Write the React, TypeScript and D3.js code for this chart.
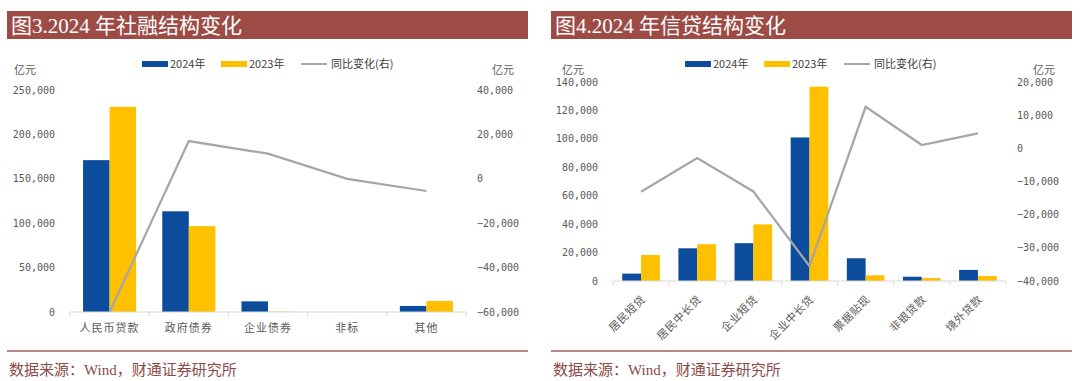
import React from "react";
import * as d3 from "d3";

// ---------- data ----------
const socialCats = ["人民币贷款", "政府债券", "企业债券", "非标", "其他"];
const social2024 = [171000, 113400, 12000, 0, 6800];
const social2023 = [231000, 96700, 500, 0, 12500];
const socialYoy = [-60000, 17000, 11300, 0, -5500];
const socialLeftTicks = [0, 50000, 100000, 150000, 200000, 250000];
const socialRightTicks = [-60000, -40000, -20000, 0, 20000, 40000];

const creditCats = ["居民短贷", "居民中长贷", "企业短贷", "企业中长贷", "票据贴现", "非银贷款", "境外贷款"];
const credit2024 = [5200, 23000, 26600, 101000, 16000, 3000, 7800];
const credit2023 = [18300, 25900, 39800, 136700, 4000, 2100, 3500];
const creditYoy = [-13100, -2900, -13000, -35500, 12500, 1000, 4500];
const creditLeftTicks = [0, 20000, 40000, 60000, 80000, 100000, 120000, 140000];
const creditRightTicks = [-40000, -30000, -20000, -10000, 0, 10000, 20000];

const legendLabels = ["2024年", "2023年", "同比变化(右)"];
const unitLabel = "亿元";
const sourceText = "数据来源：Wind，财通证券研究所";

// ---------- styles ----------
const BLUE = "#0B4C9C";
const YELLOW = "#FFC000";
const GRAY = "#A6A6A6";
const TITLE_BG = "#9E4B46";
const SRC = "#8C4A48";
const TXT = "#595959";
const CJK = "'Noto Sans CJK SC', sans-serif";
const NUM = "'DejaVu Sans Mono', monospace";
const fmt = d3.format(",");

type PanelProps = {
  x0: number;
  width: number;
  title: string;
  cats: string[];
  a: number[];
  b: number[];
  yoy: number[];
  leftTicks: number[];
  rightTicks: number[];
  plotX: [number, number];
  plotY: [number, number];
  leftLabelX: number;
  rightLabelX: number;
  rotate: boolean;
  legendX: number;
  unitLeftX: number;
  unitRightX: number;
};

function Panel(p: PanelProps) {
  const x = d3.scaleBand<string>().domain(p.cats).range(p.plotX);
  const bw = x.bandwidth();
  const barW = bw * 0.335;
  const yL = d3
    .scaleLinear()
    .domain([p.leftTicks[0], p.leftTicks[p.leftTicks.length - 1]])
    .range(p.plotY);
  const yR = d3
    .scaleLinear()
    .domain([p.rightTicks[0], p.rightTicks[p.rightTicks.length - 1]])
    .range(p.plotY);
  const line = d3
    .line<number>()
    .x((_, i) => (x(p.cats[i]) as number) + bw / 2)
    .y((d) => yR(d));
  const base = yL(0);
  const boundaries = p.cats.map((c) => x(c) as number).concat([p.plotX[1]]);
  const lx = p.legendX;
  const ly = 64;

  return (
    <g>
      <rect x={p.x0} y={11} width={p.width} height={28} fill={TITLE_BG} />
      <text
        x={p.x0 + 4}
        y={33}
        fill="#fff"
        fontSize={21}
        fontFamily={`'Liberation Serif', ${CJK}`}
      >
        {p.title}
      </text>

      <rect x={lx} y={ly - 3} width={26} height={6} fill={BLUE} />
      <text x={lx + 28} y={ly} dy="0.35em" fontSize={11} fill="#404040" fontFamily={CJK}>
        {legendLabels[0]}
      </text>
      <rect x={lx + 79} y={ly - 3} width={26} height={6} fill={YELLOW} />
      <text x={lx + 107} y={ly} dy="0.35em" fontSize={11} fill="#404040" fontFamily={CJK}>
        {legendLabels[1]}
      </text>
      <line x1={lx + 159} x2={lx + 185} y1={ly} y2={ly} stroke={GRAY} strokeWidth={2} />
      <text x={lx + 189} y={ly} dy="0.35em" fontSize={11} fill="#404040" fontFamily={CJK}>
        {legendLabels[2]}
      </text>

      <text x={p.unitLeftX} y={70} dy="0.35em" fontSize={11} fill={TXT} fontFamily={CJK}>
        {unitLabel}
      </text>
      <text x={p.unitRightX} y={70} dy="0.35em" fontSize={11} fill={TXT} fontFamily={CJK}>
        {unitLabel}
      </text>

      {p.leftTicks.map((t) => (
        <text
          key={"l" + t}
          x={p.leftLabelX}
          y={yL(t)}
          dy="0.35em"
          textAnchor="end"
          fontSize={10}
          fill={TXT}
          fontFamily={NUM}
        >
          {fmt(t)}
        </text>
      ))}
      {p.rightTicks.map((t) => (
        <text
          key={"r" + t}
          x={p.rightLabelX}
          y={yR(t)}
          dy="0.35em"
          textAnchor="start"
          fontSize={10}
          fill={TXT}
          fontFamily={NUM}
        >
          {fmt(t)}
        </text>
      ))}

      {p.cats.map((c, i) => {
        const cx = (x(c) as number) + bw / 2;
        return (
          <g key={"b" + c}>
            <rect
              x={cx - barW}
              y={yL(Math.max(0, p.a[i]))}
              width={barW}
              height={Math.abs(yL(p.a[i]) - base)}
              fill={BLUE}
            />
            <rect
              x={cx}
              y={yL(Math.max(0, p.b[i]))}
              width={barW}
              height={Math.abs(yL(p.b[i]) - base)}
              fill={YELLOW}
            />
          </g>
        );
      })}

      <line x1={p.plotX[0]} x2={p.plotX[1]} y1={base} y2={base} stroke="#D9D9D9" strokeWidth={1} />
      {boundaries.map((bx, i) => (
        <line key={"t" + i} x1={bx} x2={bx} y1={base} y2={base + 4} stroke="#D9D9D9" strokeWidth={1} />
      ))}

      <path d={line(p.yoy) as string} fill="none" stroke={GRAY} strokeWidth={2.25} />

      {p.cats.map((c) => {
        const cx = (x(c) as number) + bw / 2;
        if (p.rotate) {
          return (
            <text
              key={"c" + c}
              transform={`translate(${cx + 5},${base + 19}) rotate(-45)`}
              textAnchor="end"
              fontSize={11}
              fill={TXT}
              fontFamily={CJK}
              letterSpacing={0.5}
            >
              {c}
            </text>
          );
        }
        return (
          <text
            key={"c" + c}
            x={cx}
            y={base + 20}
            textAnchor="middle"
            fontSize={11}
            fill={TXT}
            fontFamily={CJK}
            letterSpacing={1}
          >
            {c}
          </text>
        );
      })}

      <line x1={p.x0} x2={p.x0 + p.width} y1={351} y2={351} stroke="#9C5E5A" strokeWidth={1.5} />
      <text x={p.x0 + 2} y={375} fontSize={15} fill={SRC} fontFamily={`'Liberation Serif', ${CJK}`}>
        {sourceText}
      </text>
    </g>
  );
}

export default function App() {
  return (
    <svg
      width={1080}
      height={381}
      style={{ position: "absolute", left: 0, top: 0, background: "#fff" }}
    >
      <rect x={0} y={0} width={1080} height={381} fill="#fff" />
      <Panel
        x0={7}
        width={521}
        title="图3.2024 年社融结构变化"
        cats={socialCats}
        a={social2024}
        b={social2023}
        yoy={socialYoy}
        leftTicks={socialLeftTicks}
        rightTicks={socialRightTicks}
        plotX={[70, 466]}
        plotY={[312, 90]}
        leftLabelX={55}
        rightLabelX={477}
        rotate={false}
        legendX={142}
        unitLeftX={14}
        unitRightX={492}
      />
      <Panel
        x0={551}
        width={521}
        title="图4.2024 年信贷结构变化"
        cats={creditCats}
        a={credit2024}
        b={credit2023}
        yoy={creditYoy}
        leftTicks={creditLeftTicks}
        rightTicks={creditRightTicks}
        plotX={[613, 1006]}
        plotY={[281, 82]}
        leftLabelX={598}
        rightLabelX={1017}
        rotate={true}
        legendX={685}
        unitLeftX={562}
        unitRightX={1033}
      />
    </svg>
  );
}
